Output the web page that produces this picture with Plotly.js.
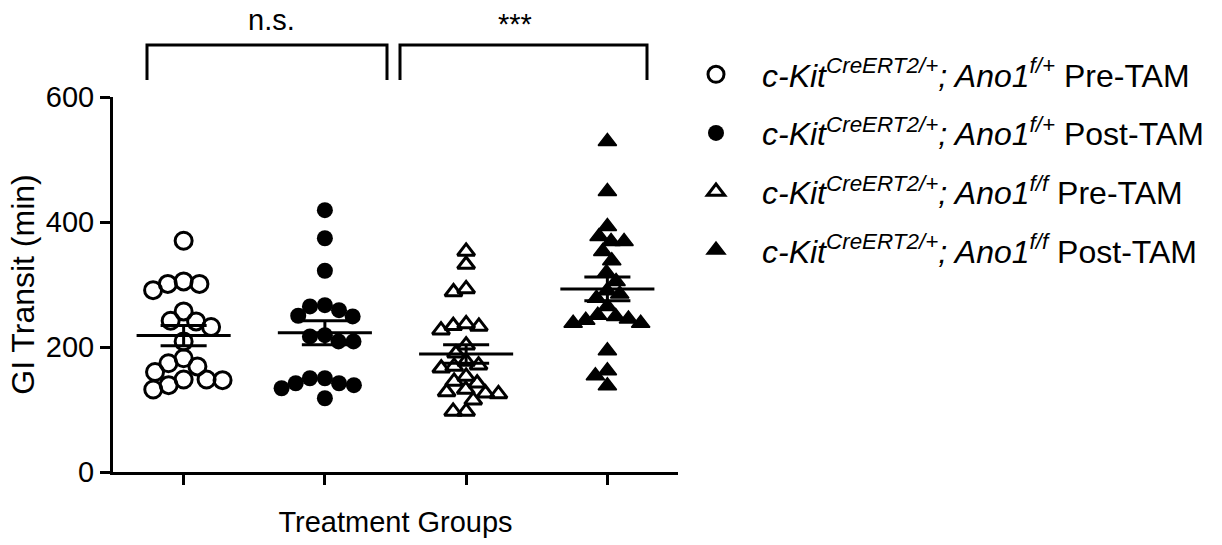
<!DOCTYPE html>
<html>
<head>
<meta charset="utf-8">
<script src="https://cdn.plot.ly/plotly-3.0.1.min.js"></script>
<style>
  html, body { margin: 0; padding: 0; background: #ffffff; }
  #chart { width: 1222px; height: 545px; }
</style>
</head>
<body>
<div id="chart"></div>
<script>
// ---------------- data ----------------
const groupLabels = [
  '<i>c-Kit</i><sup><i>CreERT2/+</i></sup><i>; Ano1</i><sup><i>f/+</i></sup> Pre-TAM',
  '<i>c-Kit</i><sup><i>CreERT2/+</i></sup><i>; Ano1</i><sup><i>f/+</i></sup> Post-TAM',
  '<i>c-Kit</i><sup><i>CreERT2/+</i></sup><i>; Ano1</i><sup><i>f/f</i></sup> Pre-TAM',
  '<i>c-Kit</i><sup><i>CreERT2/+</i></sup><i>; Ano1</i><sup><i>f/f</i></sup> Post-TAM'
];
const groupIndex = [0, 1, 2, 3];

const preTamFPlus  = [370, 301, 291, 301, 305, 257, 242, 232, 241, 209, 182, 174, 169, 148, 147, 132, 139, 148, 160];
const postTamFPlus = [419, 374, 322, 267, 259, 265, 249, 250, 219, 209, 209, 217, 150, 142, 139, 118, 134, 142, 150];
const preTamFF     = [353, 332, 288, 293, 234, 227, 233, 237, 203, 190, 171, 166, 177, 169, 153, 145, 142, 132, 126, 115, 125, 128, 97, 97];
const postTamFF    = [529, 449, 393, 369, 369, 377, 353, 338, 319, 305, 290, 285, 278, 265, 249, 243, 238, 238, 245, 251, 194, 162, 154, 138];

const yTickVals = [0, 200, 400, 600];
const yTickText = ['0', '200', '400', '600'];
const xAxisTitle = 'Treatment Groups';
const yAxisTitle = 'GI Transit (min)';
const comparisonLabels = ['n.s.', '***'];

// ---------------- geometry ----------------
const W = 1222, H = 545;
const M = { l: 113, r: 544, t: 97, b: 73 };
const plotW = W - M.l - M.r, plotH = H - M.t - M.b;
const xRange = [-0.5, 3.5], yRange = [0, 600];
const pxPerX = plotW / (xRange[1] - xRange[0]);
const pxPerY = plotH / (yRange[1] - yRange[0]);

// deterministic beeswarm: spreads points horizontally so markers don't collide
function swarm(values, center, diam) {
  const order = values.map((v, i) => i).sort((a, b) => values[b] - values[a]);
  const placed = [];
  const xs = new Array(values.length);
  for (const i of order) {
    const y = values[i] * pxPerY;
    const cands = [0];
    for (const p of placed) {
      const dy = Math.abs(p.y - y);
      if (dy < diam) {
        const dx = Math.sqrt(diam * diam - dy * dy);
        cands.push(p.x - dx, p.x + dx);
      }
    }
    cands.sort((a, b) => Math.abs(a) - Math.abs(b) || a - b);
    let best = 0;
    for (const c of cands) {
      if (placed.every(p => (p.x - c) ** 2 + (p.y - y) ** 2 >= diam * diam - 1e-6)) { best = c; break; }
    }
    placed.push({ x: best, y: y });
    xs[i] = center + best / pxPerX;
  }
  return xs;
}

function mean(a) { return a.reduce((s, v) => s + v, 0) / a.length; }
function sem(a) {
  const m = mean(a);
  const sd = Math.sqrt(a.reduce((s, v) => s + (v - m) ** 2, 0) / (a.length - 1));
  return sd / Math.sqrt(a.length);
}

const seriesList = [preTamFPlus, postTamFPlus, preTamFF, postTamFF];
const markerStyles = [
  { symbol: 'circle-open', size: 17, color: '#000', line: { width: 3, color: '#000' } },
  { symbol: 'circle', size: 16, color: '#000', line: { width: 0 } },
  { symbol: 'triangle-up-open', size: 15, color: '#000', line: { width: 3, color: '#000' } },
  { symbol: 'triangle-up', size: 16, color: '#000', line: { width: 1.5, color: '#000' } }
];
const swarmDiam = [16, 15, 13, 13];

const traces = [];
seriesList.forEach((vals, g) => {
  traces.push({
    type: 'scatter', mode: 'markers',
    x: swarm(vals, groupIndex[g], swarmDiam[g]),
    y: vals,
    name: groupLabels[g],
    legendgroup: 'g' + g,
    marker: markerStyles[g],
    cliponaxis: false,
    hoverinfo: 'y'
  });
});

// mean ± SEM bars
seriesList.forEach((vals, g) => {
  const m = mean(vals), s = sem(vals), c = groupIndex[g];
  const hw = 0.333, cw = 0.163;
  traces.push({
    type: 'scatter', mode: 'lines',
    x: [c - hw, c + hw, null, c - cw, c + cw, null, c - cw, c + cw, null, c, c],
    y: [m, m, null, m + s, m + s, null, m - s, m - s, null, m - s, m + s],
    line: { color: '#000', width: 3 },
    showlegend: false, hoverinfo: 'skip', cliponaxis: false
  });
});

// pixel -> paper helpers for decorations
const px2paperX = px => (px - M.l) / plotW;
const px2paperY = py => (H - M.b - py) / plotH;

const brackets = [[147, 387], [400, 647]];
const bracketTop = 45, bracketBottom = 80;
const shapes = [];
brackets.forEach(b => {
  shapes.push({
    type: 'path', xref: 'paper', yref: 'paper',
    path: 'M' + px2paperX(b[0]) + ',' + px2paperY(bracketBottom) +
          ' L' + px2paperX(b[0]) + ',' + px2paperY(bracketTop) +
          ' L' + px2paperX(b[1]) + ',' + px2paperY(bracketTop) +
          ' L' + px2paperX(b[1]) + ',' + px2paperY(bracketBottom),
    line: { color: '#000', width: 3 }
  });
});

const annotations = [
  { text: comparisonLabels[0], x: px2paperX(271), y: px2paperY(20), xref: 'paper', yref: 'paper',
    showarrow: false, xanchor: 'center', yanchor: 'middle', font: { size: 29 } },
  { text: comparisonLabels[1], x: px2paperX(515), y: px2paperY(24), xref: 'paper', yref: 'paper',
    showarrow: false, xanchor: 'center', yanchor: 'middle', font: { size: 29 } }
];

const axisCommon = {
  showline: true, linewidth: 3, linecolor: '#000',
  ticks: 'outside', ticklen: 10, tickwidth: 3, tickcolor: '#000',
  showgrid: false, zeroline: false, fixedrange: true
};

const layout = {
  width: W, height: H,
  margin: { l: M.l, r: M.r, t: M.t, b: M.b, pad: 0 },
  paper_bgcolor: '#ffffff', plot_bgcolor: '#ffffff',
  font: { family: '"Liberation Sans", Arial, sans-serif', size: 29, color: '#000' },
  xaxis: Object.assign({}, axisCommon, {
    range: xRange, tickvals: groupIndex, showticklabels: false,
    title: { text: xAxisTitle, font: { size: 29 }, standoff: 28 }
  }),
  yaxis: Object.assign({}, axisCommon, {
    range: yRange, tickvals: yTickVals, ticktext: yTickText,
    tickfont: { size: 29 },
    title: { text: yAxisTitle, font: { size: 32 }, standoff: 2 }
  }),
  showlegend: true,
  legend: {
    x: px2paperX(670), xanchor: 'left',
    y: px2paperY(47), yanchor: 'top',
    font: { size: 32 },
    itemwidth: 82,
    traceorder: 'grouped', tracegroupgap: 14,
    bgcolor: 'rgba(0,0,0,0)', borderwidth: 0
  },
  shapes: shapes,
  annotations: annotations,
  hovermode: 'closest'
};

Plotly.newPlot('chart', traces, layout, { displayModeBar: false, staticPlot: false });
</script>
</body>
</html>
